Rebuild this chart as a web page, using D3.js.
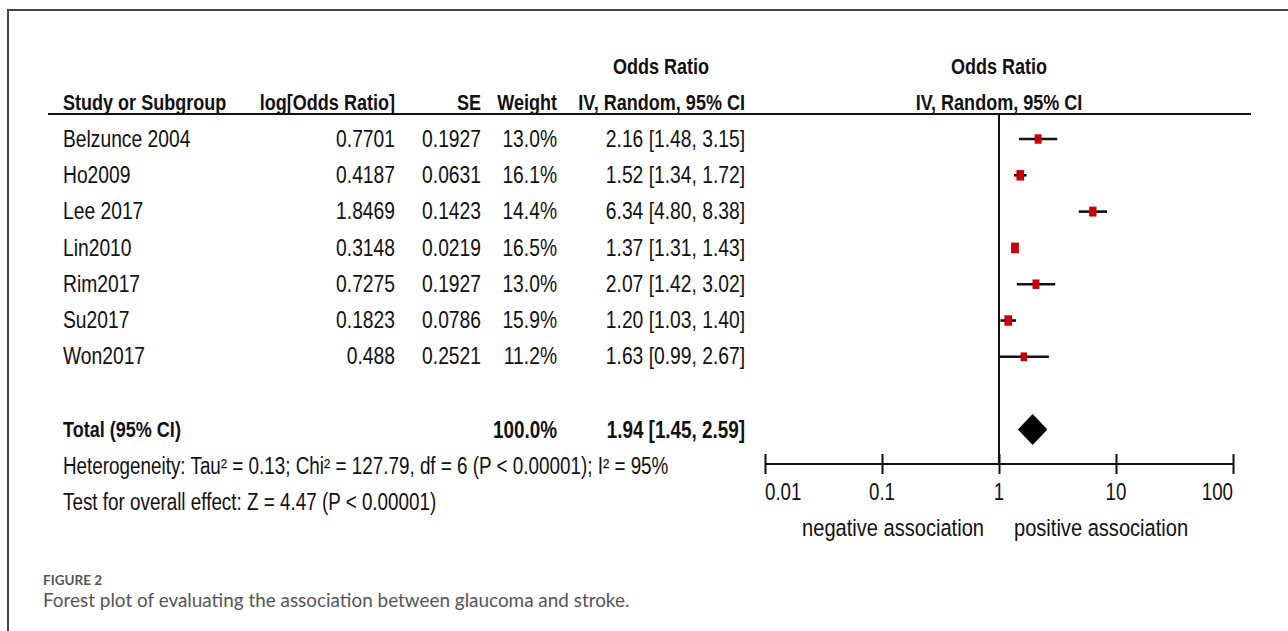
<!DOCTYPE html>
<html>
<head>
<meta charset="utf-8">
<script src="https://cdn.jsdelivr.net/npm/d3@7/dist/d3.min.js"></script>
<style>
  html, body { margin: 0; padding: 0; background: #fff; }
  svg { display: block; }
  .narrow { font-family: 'Liberation Sans', Arial, sans-serif; fill: #111; }
  .bold { font-weight: bold; }
  .caption { font-family: Lato, 'Open Sans', sans-serif; fill: #555; }
</style>
</head>
<body>
<svg id="chart" width="1288" height="631"></svg>
<script>
// Study-level data
const studies  = ["Belzunce 2004", "Ho2009", "Lee 2017", "Lin2010", "Rim2017", "Su2017", "Won2017"];
const logOR    = [0.7701, 0.4187, 1.8469, 0.3148, 0.7275, 0.1823, 0.488];
const se       = [0.1927, 0.0631, 0.1423, 0.0219, 0.1927, 0.0786, 0.2521];
const weights  = [13.0, 16.1, 14.4, 16.5, 13.0, 15.9, 11.2];
const oddsR    = [2.16, 1.52, 6.34, 1.37, 2.07, 1.20, 1.63];
const ciLow    = [1.48, 1.34, 4.80, 1.31, 1.42, 1.03, 0.99];
const ciHigh   = [3.15, 1.72, 8.38, 1.43, 3.02, 1.40, 2.67];

// Pooled estimate
const totalWeight = 100.0;
const totalOR   = 1.94;
const totalLow  = 1.45;
const totalHigh = 2.59;

const axisTicks = [0.01, 0.1, 1, 10, 100];
const heterogeneityText = "Heterogeneity: Tau\u00B2 = 0.13; Chi\u00B2 = 127.79, df = 6 (P < 0.00001); I\u00B2 = 95%";
const overallText = "Test for overall effect: Z = 4.47 (P < 0.00001)";

const svg = d3.select("#chart");
const f2 = d3.format(".2f");
const f1 = d3.format(".1f");
const ciLabel = (o, l, h) => `${f2(o)} [${f2(l)}, ${f2(h)}]`;

// Outer frame (top and left edges)
svg.append("path")
  .attr("d", "M8,631 L8,10 L1288,10")
  .attr("fill", "none").attr("stroke", "#444").attr("stroke-width", 2);

// Layout: one row pitch for the whole table
const rowH = 36.3, firstRow = 139;
const colStudy = 63, colLog = 395, colSE = 481, colW = 557, colCI = 745;
const fsHead = 22, fsRow = 23.5;
const NARROW = 0.82;   // horizontal squeeze for a narrow face
const y = d3.scalePoint().domain(studies).range([firstRow, firstRow + rowH * (studies.length - 1)]);
const x = d3.scaleLog().domain([0.01, 100]).range([765, 1233]);
const rowY = k => firstRow + rowH * k;          // k = row index relative to the first study
const headerLineY = 114, axisY = 464, totalY = rowY(8);

// Condensed text: regular face squeezed horizontally around its anchor.
function txt(xp, yp, s, anchor, cls, size, sx = NARROW) {
  const g = svg.append("g").attr("transform", `translate(${xp},${yp}) scale(${sx},1)`);
  return g.append("text").attr("class", cls)
    .attr("text-anchor", anchor).attr("dominant-baseline", "central")
    .attr("font-size", size).text(s);
}

// Headers
txt(661, rowY(-2), "Odds Ratio", "middle", "narrow bold", fsHead);
txt(x(1), rowY(-2), "Odds Ratio", "middle", "narrow bold", fsHead);
txt(colStudy, rowY(-1), "Study or Subgroup", "start", "narrow bold", fsHead);
txt(colLog, rowY(-1), "log[Odds Ratio]", "end", "narrow bold", fsHead);
txt(colSE, rowY(-1), "SE", "end", "narrow bold", fsHead);
txt(colW, rowY(-1), "Weight", "end", "narrow bold", fsHead);
txt(colCI, rowY(-1), "IV, Random, 95% CI", "end", "narrow bold", fsHead);
txt(x(1), rowY(-1), "IV, Random, 95% CI", "middle", "narrow bold", fsHead);

// Header underline
svg.append("line").attr("x1", 48).attr("x2", 1251)
  .attr("y1", headerLineY).attr("y2", headerLineY)
  .attr("stroke", "#111").attr("stroke-width", 2);

// Study rows
studies.forEach((s, i) => {
  const yy = y(s);
  txt(colStudy, yy, s, "start", "narrow", fsRow);
  txt(colLog, yy, String(logOR[i]), "end", "narrow", fsRow);
  txt(colSE, yy, String(se[i]), "end", "narrow", fsRow);
  txt(colW, yy, f1(weights[i]) + "%", "end", "narrow", fsRow);
  txt(colCI, yy, ciLabel(oddsR[i], ciLow[i], ciHigh[i]), "end", "narrow", fsRow);
});

// Totals and summary statistics
txt(colStudy, totalY, "Total (95% CI)", "start", "narrow bold", fsHead);
txt(colW, totalY, f1(totalWeight) + "%", "end", "narrow bold", fsHead + 1);
txt(colCI, totalY, ciLabel(totalOR, totalLow, totalHigh), "end", "narrow bold", fsHead + 1);
txt(colStudy, rowY(9), heterogeneityText, "start", "narrow", 23);
txt(colStudy, rowY(10), overallText, "start", "narrow", 23);

// Line of no effect
svg.append("line")
  .attr("x1", x(1)).attr("x2", x(1))
  .attr("y1", headerLineY).attr("y2", axisY)
  .attr("stroke", "#111").attr("stroke-width", 2);

// Confidence intervals
const plot = svg.append("g");
plot.selectAll("line.ci").data(studies).join("line")
  .attr("class", "ci")
  .attr("x1", (d, i) => x(ciLow[i])).attr("x2", (d, i) => x(ciHigh[i]))
  .attr("y1", d => y(d)).attr("y2", d => y(d))
  .attr("stroke", "#111").attr("stroke-width", 2.6);

// Point estimates, sized by weight
const boxW = d3.scaleSqrt().domain([0, 20]).range([0, 8.6]);
plot.selectAll("rect.est").data(studies).join("rect")
  .attr("class", "est")
  .attr("x", (d, i) => x(oddsR[i]) - boxW(weights[i]) / 2)
  .attr("y", (d, i) => y(d) - boxW(weights[i]) * 0.68)
  .attr("width", (d, i) => boxW(weights[i]))
  .attr("height", (d, i) => boxW(weights[i]) * 1.36)
  .attr("fill", "#c8000a");

// Pooled diamond
const dh = 15.5;
svg.append("path")
  .attr("d", `M${x(totalLow)},${totalY} L${x(totalOR)},${totalY - dh} L${x(totalHigh)},${totalY} L${x(totalOR)},${totalY + dh} Z`)
  .attr("fill", "#000");

// Log axis with ticks crossing the baseline
const axis = svg.append("g")
  .attr("transform", `translate(0,${axisY})`)
  .call(d3.axisBottom(x).tickValues(axisTicks).tickFormat(d => String(d)).tickSize(10));
axis.select(".domain").attr("stroke", "#111").attr("stroke-width", 2).attr("d", `M${x(0.01)},0H${x(100)}`);
axis.selectAll(".tick line").attr("y1", -10).attr("y2", 10).attr("stroke", "#111").attr("stroke-width", 2);
axis.selectAll(".tick text").remove();
// End labels sit inside the axis span
axisTicks.forEach((v, i) => {
  const anchor = i === 0 ? "start" : (i === axisTicks.length - 1 ? "end" : "middle");
  txt(x(v), 492, String(v), anchor, "narrow", 24, 0.78);
});

txt(x(1) - 15, 528, "negative association", "end", "narrow", 24.5);
txt(x(1) + 15, 528, "positive association", "start", "narrow", 24.5);

// Caption
svg.append("text").attr("class", "caption").attr("x", 43).attr("y", 585)
  .attr("font-size", 13.5).attr("font-weight", 700).text("FIGURE 2");
svg.append("text").attr("class", "caption").attr("x", 43).attr("y", 607)
  .attr("font-size", 18.9).text("Forest plot of evaluating the association between glaucoma and stroke.");
</script>
</body>
</html>
